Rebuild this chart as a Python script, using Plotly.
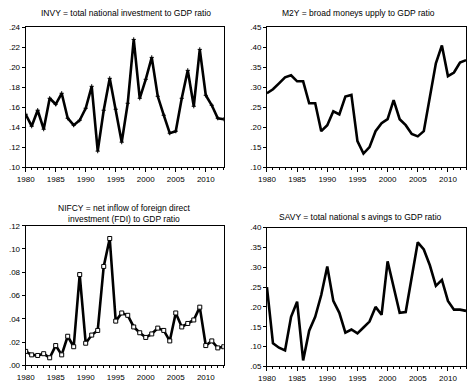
import plotly.graph_objects as go

years = list(range(1980, 2014))

invy = [.153, .141, .157, .138, .169, .163, .174, .149, .142, .147, .159, .181, .116, .157, .189, .158, .125,
        .164, .228, .169, .188, .210, .171, .152, .134, .136, .169, .197, .161, .218, .172, .162, .149, .148]
m2y = [.285, .295, .31, .325, .33, .315, .315, .26, .26, .19, .205, .24, .232, .277, .281, .165, .134,
       .15, .19, .21, .22, .268, .22, .205, .183, .177, .19, .28, .36, .405, .328, .337, .362, .368]
nifcy = [.012, .009, .0085, .010, .0065, .017, .009, .025, .016, .078, .019, .026, .030, .085, .109, .038, .045,
         .043, .033, .028, .024, .027, .032, .030, .021, .045, .033, .036, .039, .050, .017, .021, .015, .016]
savy = [.25, .108, .097, .09, .175, .213, .065, .14, .175, .23, .302, .215, .185, .135, .143, .133, .148,
        .163, .20, .18, .315, .25, .185, .187, .27, .363, .345, .305, .253, .268, .215, .193, .193, .19]

x_tickvals = [1980, 1985, 1990, 1995, 2000, 2005, 2010]
x_ticktext = ["1980", "1985", "1990", "1995", "2000", "2005", "2010"]

invy_ticks = [.10, .12, .14, .16, .18, .20, .22, .24]
invy_labels = [".10", ".12", ".14", ".16", ".18", ".20", ".22", ".24"]
m2y_ticks = [.10, .15, .20, .25, .30, .35, .40, .45]
m2y_labels = [".10", ".15", ".20", ".25", ".30", ".35", ".40", ".45"]
nifcy_ticks = [.00, .02, .04, .06, .08, .10, .12]
nifcy_labels = [".00", ".02", ".04", ".06", ".08", ".10", ".12"]
savy_ticks = [.05, .10, .15, .20, .25, .30, .35, .40]
savy_labels = [".05", ".10", ".15", ".20", ".25", ".30", ".35", ".40"]

titles = ["INVY = total national investment to GDP ratio",
          "M2Y = broad moneys upply to GDP ratio",
          "NIFCY = net inflow of foreign direct<br>investment (FDI) to GDP ratio",
          "SAVY = total national s avings to GDP ratio"]

W, H = 468, 385
FONT = "Liberation Sans, Arial, sans-serif"


def px_x(a, b):
    return [a / W, b / W]


def px_y(top, bottom):
    return [1 - bottom / H, 1 - top / H]


fig = go.Figure()

line = dict(color="black", width=2.6)
fig.add_trace(go.Scatter(x=years, y=invy, mode="lines+markers", line=line,
                         marker=dict(symbol="cross-thin", size=3, line=dict(width=1, color="black")),
                         xaxis="x", yaxis="y"))
fig.add_trace(go.Scatter(x=years, y=m2y, mode="lines", line=line, xaxis="x2", yaxis="y2"))
fig.add_trace(go.Scatter(x=years, y=nifcy, mode="lines+markers", line=line,
                         marker=dict(symbol="square", size=4, color="white",
                                     line=dict(width=1, color="black")),
                         xaxis="x3", yaxis="y3"))
fig.add_trace(go.Scatter(x=years, y=savy, mode="lines", line=line, xaxis="x4", yaxis="y4"))

tickfont = dict(family=FONT, size=8, color="black")


def xaxis(domain, anchor):
    return dict(domain=domain, anchor=anchor, range=[1980, 2013], tickvals=x_tickvals,
                ticktext=x_ticktext, ticks="outside", ticklen=4, tickwidth=1, tickcolor="black",
                minor=dict(ticks="outside", dtick=1, tick0=1980, ticklen=2, tickcolor="black"),
                showline=True, linecolor="black", linewidth=1, mirror=True, showgrid=False,
                zeroline=False, tickfont=tickfont, fixedrange=True)


def yaxis(domain, anchor, rng, vals, labels):
    return dict(domain=domain, anchor=anchor, range=rng, tickvals=vals, ticktext=labels,
                ticks="outside", ticklen=3, tickwidth=1, tickcolor="black",
                showline=True, linecolor="black", linewidth=1, mirror=True, showgrid=False,
                zeroline=False, tickfont=tickfont, fixedrange=True)


left = px_x(17, 219)
right = px_x(263, 466)
top = px_y(24, 167)
bl = px_y(227, 370)
br = px_y(229, 371)

fig.update_layout(
    width=W, height=H,
    margin=dict(l=0, r=0, t=0, b=0),
    paper_bgcolor="white", plot_bgcolor="white",
    showlegend=False,
    xaxis=xaxis(left, "y"), yaxis=yaxis(top, "x", [.10, .24], invy_ticks, invy_labels),
    xaxis2=xaxis(right, "y2"), yaxis2=yaxis(top, "x2", [.10, .45], m2y_ticks, m2y_labels),
    xaxis3=xaxis(left, "y3"), yaxis3=yaxis(bl, "x3", [.00, .12], nifcy_ticks, nifcy_labels),
    xaxis4=xaxis(right, "y4"), yaxis4=yaxis(br, "x4", [.05, .40], savy_ticks, savy_labels),
)

title_pos = [(119, 9), (356, 9), (118, 215), (358, 218)]
for t, (cx, cy) in zip(titles, title_pos):
    fig.add_annotation(text=t, x=cx / W, y=1 - cy / H, xref="paper", yref="paper",
                       showarrow=False, xanchor="center", yanchor="middle",
                       font=dict(family=FONT, size=8.5, color="black"))

fig.write_html("out.html", config={"displayModeBar": False},
               post_script="document.body.style.margin='0';document.body.style.padding='0';")
